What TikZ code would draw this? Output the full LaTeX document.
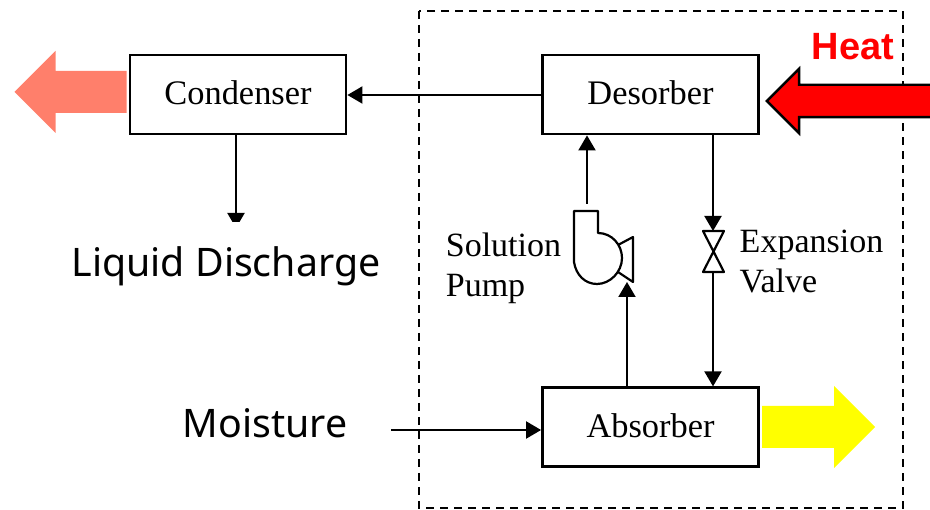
\documentclass[tikz,border=0pt]{standalone}
\usepackage{fontspec}
\setmainfont{Liberation Serif}
\newfontfamily\labelfont{Noto Sans}
\newfontfamily\heatfont{Liberation Sans}
\usetikzlibrary{positioning, arrows.meta, shapes.arrows}
\definecolor{ventsalmon}{HTML}{FF7F6B}
\definecolor{coolyellow}{HTML}{FFFF00}
\definecolor{heatred}{HTML}{FF0000}

\begin{document}
\begin{tikzpicture}[x=1pt, y=-1pt, thick, >={Triangle[length=15pt,width=17pt]}, line width=2pt]
        % Define block styles
        \tikzstyle{block} = [rectangle, draw, line width=2.8pt, fill=white, minimum width=216pt, minimum height=79pt, inner sep=0pt, text depth=4pt, font=\fontsize{34.4}{38}\selectfont]
        \tikzstyle{tag} = [align=left, inner sep=0pt, font=\fontsize{34}{40}\selectfont]
        \tikzstyle{bigtag} = [inner sep=0pt, font=\labelfont\fontsize{39.3}{44}\selectfont]
        \tikzstyle{bigarrow} = [single arrow, inner xsep=0pt, single arrow head extend=0pt, shape border rotate=0]
        \tikzstyle{part} = [line width=2.2pt, line join=round]

        \useasboundingbox (0,0) rectangle (930,510);

        % Dashed system boundary
        \draw [dashed, line width=2.4pt, dash pattern=on 8pt off 6pt] (419,11) rectangle (903,508);

        % Place main nodes
        \node [block] (condenser) at (238,94.5) {Condenser};
        \node [block, right=193.7pt of condenser] (desorber) {Desorber};
        \node [block, below=251pt of desorber] (absorber) {Absorber};

        % Drop from the condenser, its tip hidden by the label
        \coordinate (dropend) at (236,228);
        \draw [->] (condenser.south -| dropend) -- (dropend);

        % Place labels
        \node [bigtag, fill=white, minimum height=88pt, minimum width=310pt] (liquid) at (226,266) {Liquid Discharge};
        \node [bigtag] (moisture) at (265,423) {Moisture};
        \node [tag] (pumplabel) at (503.5,268) {Solution\\Pump};
        \node [tag] (valvelabel) at (811.5,262) {Expansion\\Valve};
        \node [inner sep=0pt, text=heatred, font=\heatfont\bfseries\fontsize{38}{42}\selectfont] (heat) at (853,47) {Heat};

        % Place big arrows
        \node [bigarrow, shape border rotate=180, fill=ventsalmon, minimum height=112pt, inner ysep=20pt, single arrow head extend=20pt] (vent) at (81,92) {};
        \node [bigarrow, shape border rotate=180, draw=black, line width=2.4pt, fill=heatred, minimum height=170pt, inner ysep=15pt, single arrow head extend=16pt] (hot) at (860,101) {};
        \node [bigarrow, fill=coolyellow, minimum height=113pt, inner ysep=20pt, single arrow head extend=20pt] (cool) at (808,427) {};

        % Place pump and valve
        \coordinate (pumpin) at (627,282);
        \coordinate (pumpout) at (587,204);
        \coordinate (valvetop) at (713,231);
        \coordinate (valvebot) at (713,272);
        \coordinate (moistin) at (391,430);
        \draw [part] (598,233) .. controls (612,233) and (622,245) .. (622,258) .. controls (622,272) and (610,284) .. (597,284) .. controls (585,284) and (576,275) .. (574,262) -- (574,211) -- (598,211) -- cycle;
        \draw [part] (618,245) -- (633,237) -- (633,282) -- (618,272);
        \draw [part] (703,231) -- (724,231) -- (703,272) -- (724,272) -- cycle;

        % Draw connections as arrows
        \draw [->] (desorber.west |- 0,95) -- (condenser.east |- 0,95);
        \draw [->] (pumpout) -- (pumpout |- desorber.south);
        \draw [->] (desorber.south -| valvetop) -- (valvetop);
        \draw [->] (valvebot) -- (valvebot |- absorber.north);
        \draw [->] (absorber.north -| pumpin) -- (pumpin);
        \draw [->] (moistin) -- (moistin -| absorber.west);
\end{tikzpicture}
\end{document}
